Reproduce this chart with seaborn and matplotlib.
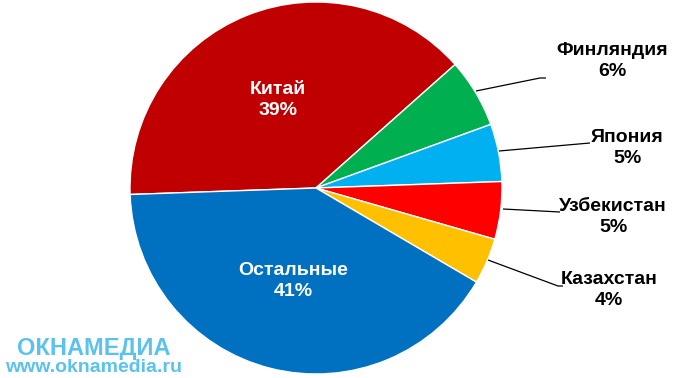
import matplotlib
matplotlib.use("Agg")
import matplotlib.pyplot as plt
import seaborn as sns

sns.set_theme(style="white")
plt.rcParams['font.family'] = ['Liberation Sans', 'DejaVu Sans']

categories = ["Китай", "Финляндия", "Япония", "Узбекистан", "Казахстан", "Остальные"]
values = [39, 6, 5, 5, 4, 41]
colors = ["#C00000", "#00B050", "#00B0F0", "#FF0000", "#FFC000", "#0070C0"]
explode = [0.018, 0, 0, 0, 0, 0]

W, H = 681, 378
fig = plt.figure(figsize=(W / 100, H / 100), dpi=100)
ax = fig.add_axes([0, 0, 1, 1])

cx, cy, r = 316, H - 188, 186
wedges, _ = ax.pie(values, colors=colors, startangle=182, counterclock=False,
                   explode=explode, center=(cx, cy), radius=r, frame=True,
                   wedgeprops=dict(edgecolor="white", linewidth=1.0))
ax.set_xlim(0, W)
ax.set_ylim(0, H)
ax.set_aspect("equal")
ax.axis("off")

fs = 14
ls = 1.25
# inside labels
ax.text(278, H - 100, f"{categories[0]}\n{values[0]}%", color="white", fontsize=fs,
        fontweight="bold", ha="center", va="center", linespacing=ls)
ax.text(293, H - 281, f"{categories[5]}\n{values[5]}%", color="white", fontsize=fs,
        fontweight="bold", ha="center", va="center", linespacing=ls)

# outside labels with leader lines (pixel coords, y down)
outside = [
    (1, [(476, 91), (540, 78), (546, 78)], (612, 61)),
    (2, [(499, 151), (590, 143)], (627, 148)),
    (3, [(503, 209), (560, 212)], (613, 217)),
    (4, [(488, 260), (558, 286), (563, 286)], (609, 290)),
]
for i, pts, (tx, ty) in outside:
    xs = [p[0] for p in pts]
    ys = [H - p[1] for p in pts]
    ax.plot(xs, ys, color="black", lw=0.9, solid_capstyle="butt")
    ax.text(tx, H - ty, f"{categories[i]}\n{values[i]}%", color="black", fontsize=fs,
            fontweight="bold", ha="center", va="center", linespacing=ls)

# watermark
wm = "#5BC2EE"
ax.text(17, H - 348, "ОКНАМЕДИА", color=wm, fontsize=17, fontweight="bold",
        ha="left", va="center")
ax.text(5, H - 368, "www.oknamedia.ru", color=wm, fontsize=14, fontweight="bold",
        ha="left", va="center")

fig.savefig("out.png", dpi=100)
